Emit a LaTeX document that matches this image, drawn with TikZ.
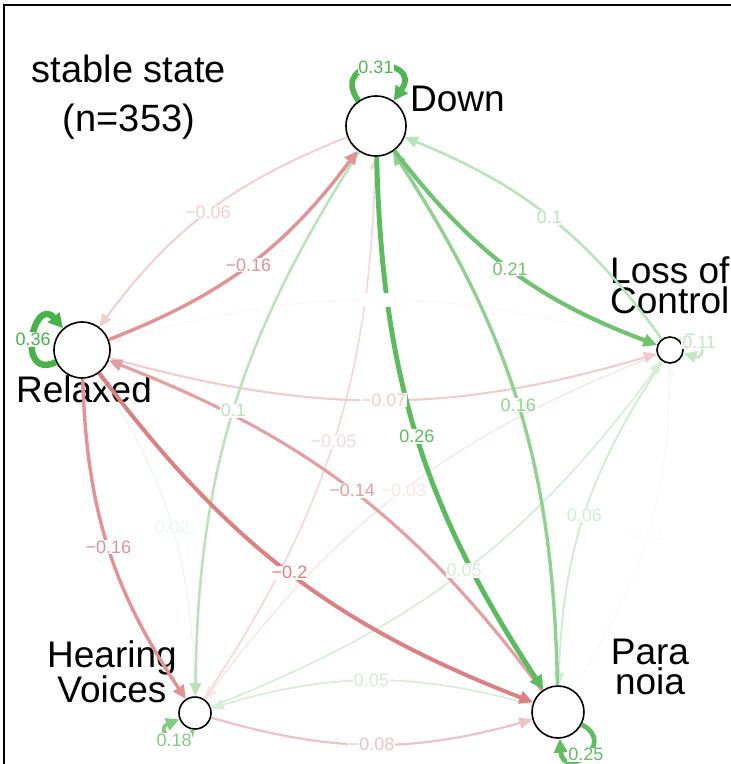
\documentclass[tikz,border=0pt]{standalone}
\usepackage{fontspec}
\setmainfont{Liberation Sans}
\usetikzlibrary{arrows.meta}
\definecolor{poscol}{RGB}{70,178,72}
\definecolor{negcol}{RGB}{208,78,84}
\tikzset{
  state/.style={circle,draw,line width=1.6pt,fill=white,inner sep=0pt},
  wedge/.style 2 args={draw=#1,line width=#2pt,-{Triangle[length=12pt 0.4,width=9pt 0.9]}},
  lbl/.style={fill=white,inner sep=0.8pt,font=\fontsize{18}{18}\selectfont},
  nm/.style={font=\fontsize{37}{30}\selectfont,inner sep=0pt}
}

\begin{document}
\begin{tikzpicture}[x=1pt,y=1pt]
\useasboundingbox (0,0) rectangle (731,-764);
\clip (0,0) rectangle (731,-764);
\draw[line width=2pt] (4,-5) rectangle (780,-800);

\node[font=\fontsize{38}{49}\selectfont,align=center,anchor=north,inner sep=0pt] (title) at (129,-55) {stable state\\(n=353)};

% nodes
\node[state,minimum size=60pt] (d) at (376,-126) {};
\node[state,minimum size=56pt] (r) at (82,-350) {};
\node[state,minimum size=26pt] (l) at (670,-350) {};
\node[state,minimum size=32pt] (h) at (195,-713) {};
\node[state,minimum size=52pt] (p) at (558,-712) {};

\node[nm,anchor=base west] (dtxt) at (410,-111) {Down};
\node[nm,anchor=base] (rtxt) at (84,-402) {Relaxed};
\node[nm,align=left,anchor=north west] (ltxt) at (610,-257) {Loss of\\Control};
\node[nm,align=center,anchor=north] (htxt) at (112,-640) {Hearing\\Voices};
\node[nm,align=center,anchor=north] (ptxt) at (650,-639) {Para\\noia};

% edges, weakest first
\foreach \src/\dst/\col/\lw/\eid in {h/r/poscol!10/1.3/hr, l/r/negcol!6/1.1/lr, p/l/poscol!6/1.1/pl,
    l/h/negcol!14/1.45/lh, h/d/negcol!22/1.75/hd, h/l/poscol!22/1.75/hl, p/h/poscol!22/1.75/ph,
    l/p/poscol!25/1.9/lp, d/r/negcol!28/1.9/dr, r/l/negcol!30/2.05/rl, h/p/negcol!35/2.2/hp,
    l/d/poscol!38/2.5/ld, d/h/poscol!38/2.5/dh, p/r/negcol!55/3.1/pr, r/d/negcol!62/3.4/rd,
    r/h/negcol!62/3.4/rh, p/d/poscol!60/3.4/pd, r/p/negcol!72/4/rp, d/l/poscol!78/4.15/dl,
    d/p/poscol!88/4.9/dp}
  \draw[wedge={\col}{\lw}] (\src) to[bend right=16] coordinate[pos=0.5] (m\eid) (\dst);

% self loops
\draw[wedge={poscol!95}{5.7}] (d) to[out=125,in=55,distance=55pt] node[lbl,text=poscol!95]{0.31} (d);
\draw[wedge={poscol}{6.4}] (r) to[out=205,in=131,distance=45pt] node[lbl,text=poscol]{0.36} (r);
\draw[wedge={poscol!32}{2.65}] (l) to[out=45,in=-15,distance=28pt] node[lbl,text=poscol!32]{0.11} (l);
\draw[wedge={poscol!68}{3.7}] (h) to[out=262,in=202,distance=30pt] node[lbl,text=poscol!68]{0.18} (h);
\draw[wedge={poscol!86}{4.75}] (p) to[out=-28,in=-86,distance=42pt] node[lbl,text=poscol!86]{0.25} (p);

% edge labels on top
\foreach \eid/\col/\txt in {hr/poscol!10/0.02, lr/negcol!2/−0.01, pl/poscol!2/0.01,
    lh/negcol!14/−0.03, hd/negcol!22/−0.05, hl/poscol!24/0.05, ph/poscol!24/0.05,
    lp/poscol!25/0.06, dr/negcol!28/−0.06, rl/negcol!30/−0.07, hp/negcol!35/−0.08,
    ld/poscol!38/0.1, dh/poscol!38/0.1, pr/negcol!55/−0.14, rd/negcol!62/−0.16,
    rh/negcol!62/−0.16, pd/poscol!60/0.16, rp/negcol!72/−0.2, dl/poscol!78/0.21,
    dp/poscol!88/0.26}
  \node[lbl,text=\col] (t\eid) at (m\eid) {\txt};
\end{tikzpicture}
\end{document}
